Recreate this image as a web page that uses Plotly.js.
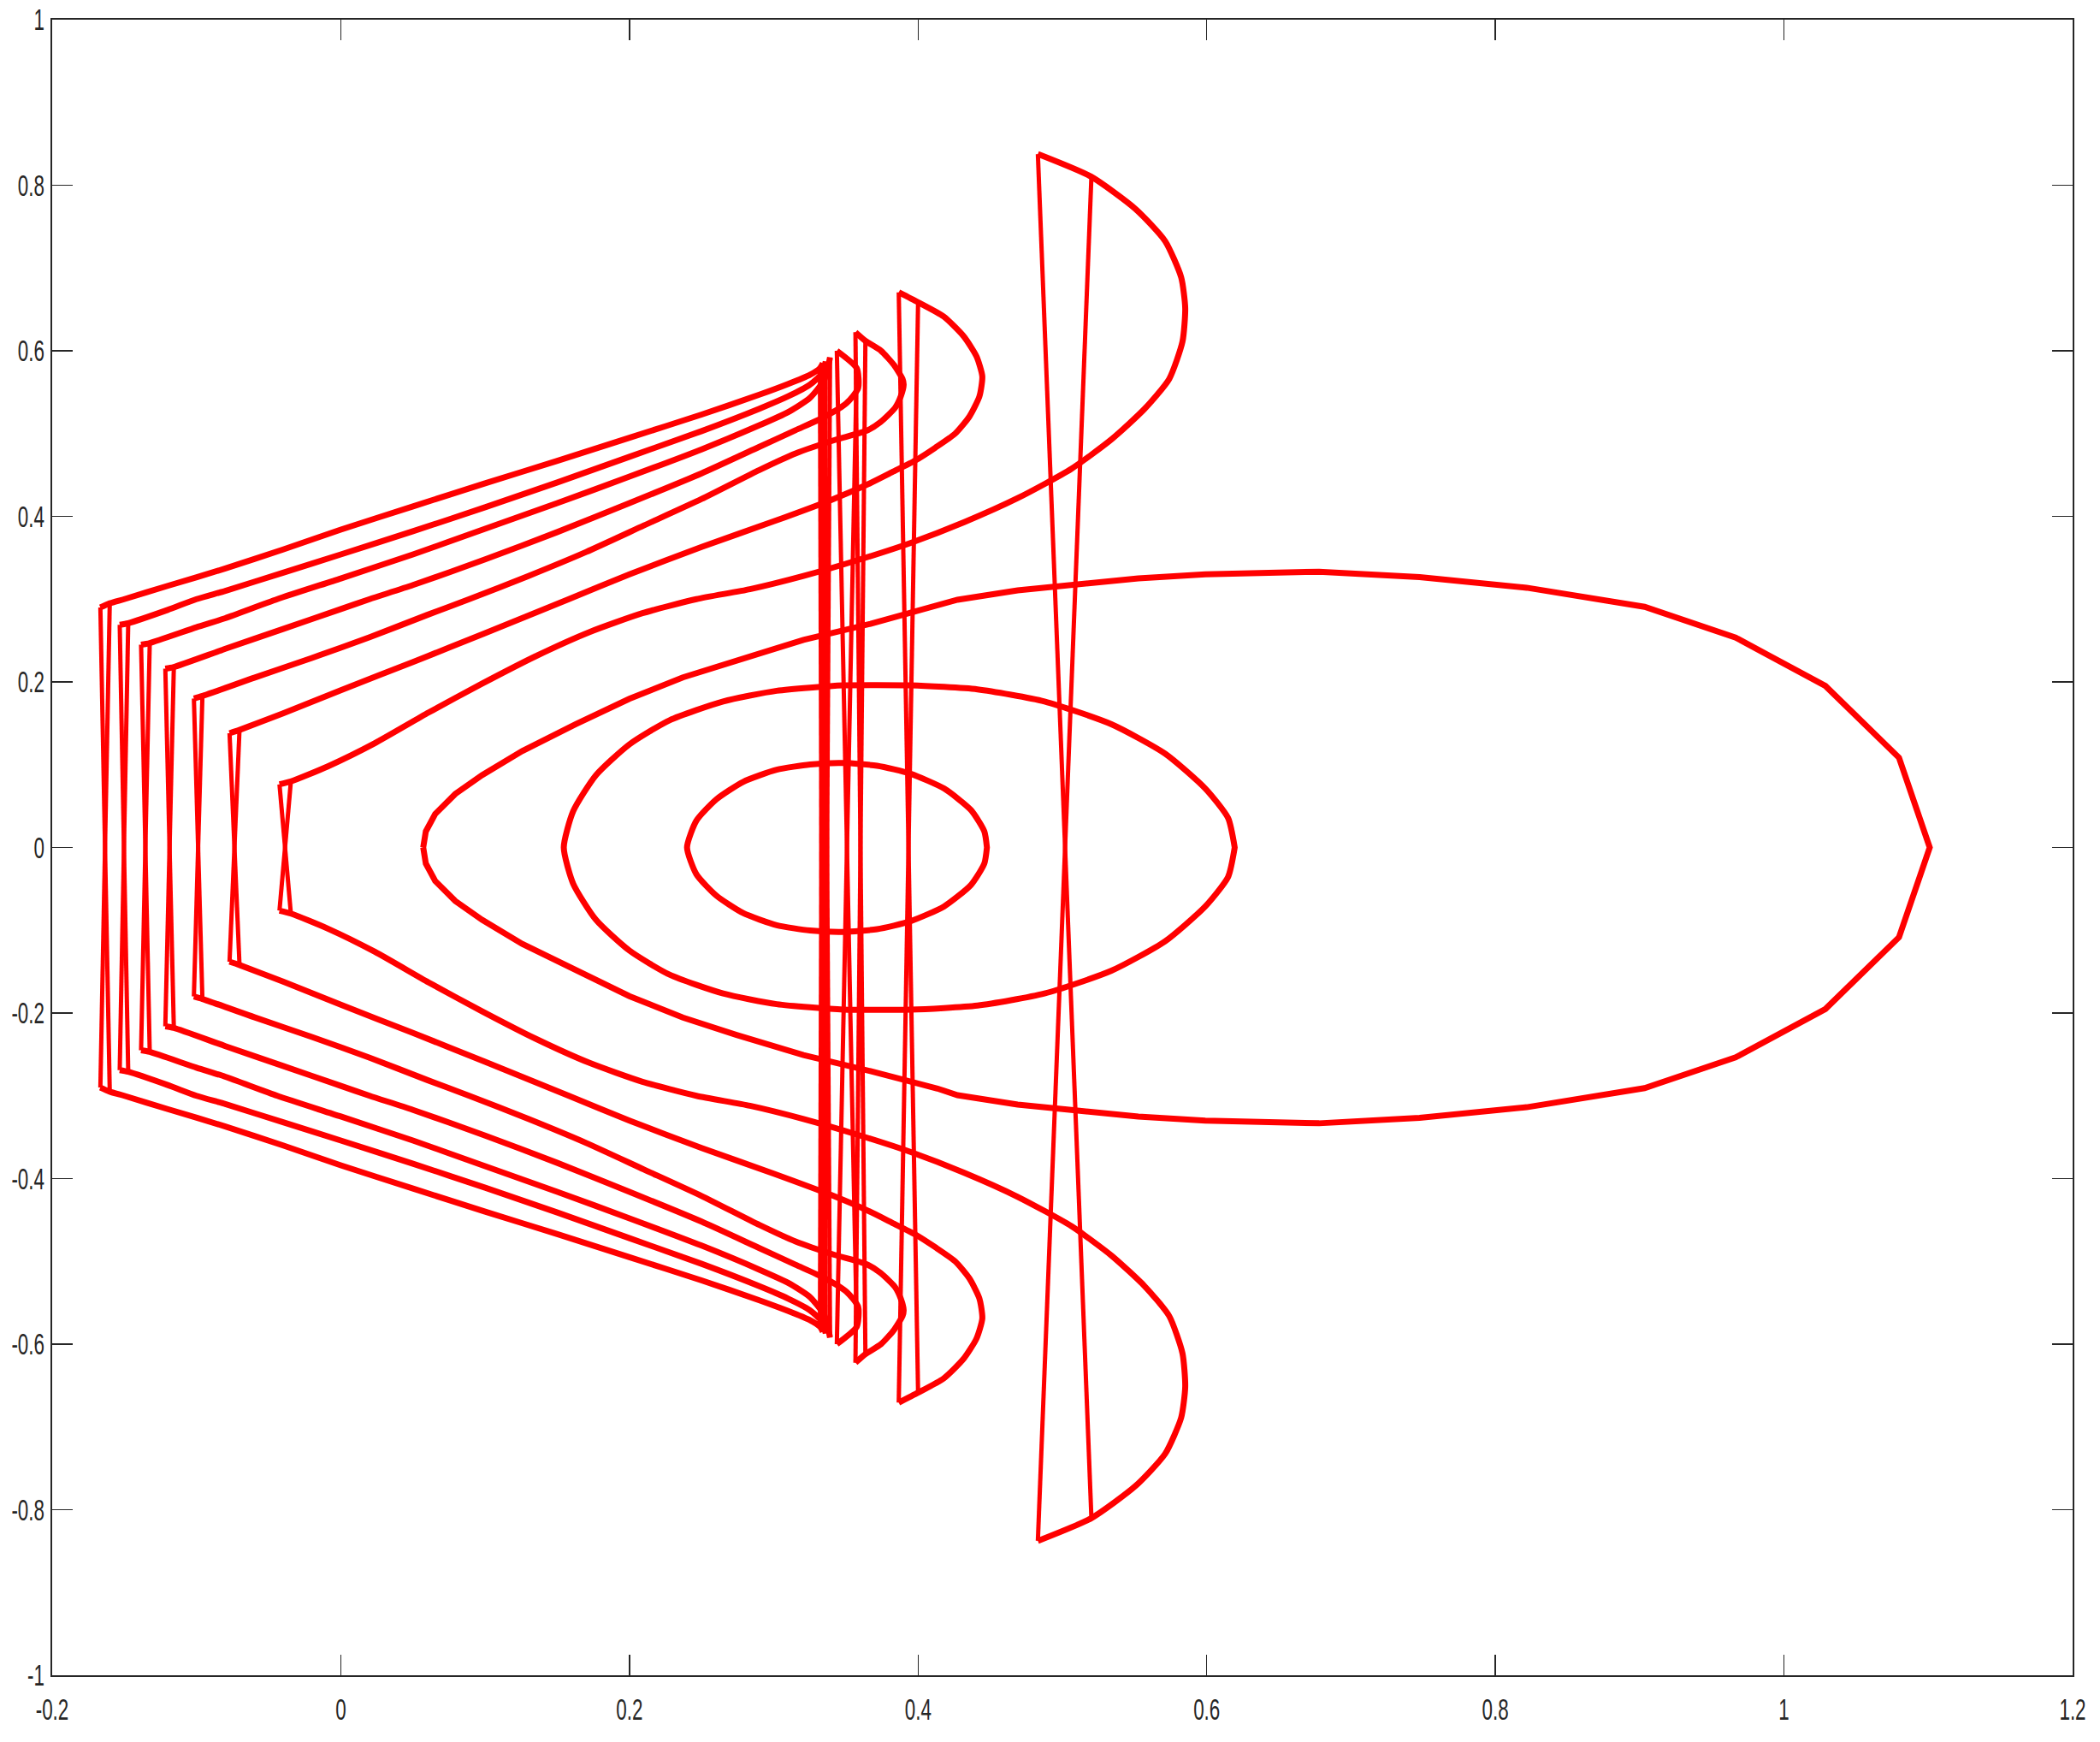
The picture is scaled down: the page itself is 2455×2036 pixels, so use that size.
<!DOCTYPE html>
<html><head><meta charset="utf-8">
<script src="https://cdn.plot.ly/plotly-3.0.1.min.js"></script>
<style>html,body{margin:0;padding:0;background:#fff;} #chart{width:2455px;height:2036px;}</style>
</head><body><div id="chart"></div>
<script>
// ---- tick definitions ----
const xTickVals = [-0.2, 0, 0.2, 0.4, 0.6, 0.8, 1, 1.2];
const xTickText = ['-0.2', '0', '0.2', '0.4', '0.6', '0.8', '1', '1.2'];
const yTickVals = [-1, -0.8, -0.6, -0.4, -0.2, 0, 0.2, 0.4, 0.6, 0.8, 1];
const yTickText = ['-1', '-0.8', '-0.6', '-0.4', '-0.2', '0', '0.2', '0.4', '0.6', '0.8', '1'];

// ---- open "fan" curves: x, upper branch y, lower branch y (left end -> right end) ----
const fan1X = [-0.1666,-0.1601,-0.150,-0.120,-0.080,-0.040,0.000,0.050,0.100,0.150,0.200,0.250,0.290,0.310,0.325,0.332,0.334];
const fan1Top = [0.290,0.295,0.300,0.316,0.337,0.360,0.384,0.412,0.440,0.467,0.495,0.523,0.547,0.560,0.571,0.579,0.585];
const fan1Bot = [-0.290,-0.295,-0.300,-0.316,-0.337,-0.360,-0.384,-0.412,-0.440,-0.467,-0.495,-0.523,-0.547,-0.560,-0.571,-0.579,-0.585];

const fan2X = [-0.1532,-0.1473,-0.120,-0.100,-0.080,-0.040,0.000,0.050,0.100,0.150,0.200,0.250,0.290,0.310,0.325,0.333,0.336];
const fan2Top = [0.269,0.271,0.287,0.300,0.310,0.332,0.354,0.382,0.411,0.441,0.472,0.503,0.530,0.545,0.559,0.572,0.587];
const fan2Bot = [-0.269,-0.271,-0.287,-0.300,-0.310,-0.332,-0.354,-0.382,-0.411,-0.441,-0.472,-0.503,-0.530,-0.545,-0.559,-0.572,-0.587];

const fan3X = [-0.1384,-0.1324,-0.100,-0.080,-0.044,0.000,0.050,0.100,0.150,0.200,0.250,0.290,0.310,0.325,0.335,0.339];
const fan3Top = [0.245,0.247,0.266,0.277,0.300,0.325,0.354,0.385,0.416,0.448,0.481,0.510,0.526,0.543,0.565,0.592];
const fan3Bot = [-0.245,-0.247,-0.266,-0.277,-0.300,-0.325,-0.354,-0.385,-0.416,-0.448,-0.481,-0.510,-0.526,-0.543,-0.565,-0.592];

const fan4X = [-0.1216,-0.1157,-0.080,-0.040,0.000,0.020,0.050,0.100,0.150,0.200,0.250,0.290,0.315,0.335,0.3506,0.3585,0.3575,0.3437];
const fan4Top = [0.216,0.218,0.240,0.264,0.288,0.300,0.317,0.348,0.381,0.416,0.452,0.484,0.504,0.520,0.537,0.555,0.579,0.600];
const fan4Bot = [-0.216,-0.218,-0.240,-0.264,-0.288,-0.300,-0.317,-0.348,-0.381,-0.416,-0.452,-0.484,-0.504,-0.520,-0.537,-0.555,-0.579,-0.600];

const fan5X = [-0.1018,-0.0959,-0.060,-0.020,0.020,0.060,0.089,0.130,0.170,0.210,0.250,0.290,0.3151,0.3418,0.3645,0.374,0.384,0.388,0.390,0.3892,0.3832,0.3743,0.3635,0.3566];
const fan5Top = [0.180,0.183,0.205,0.229,0.254,0.281,0.300,0.328,0.357,0.389,0.421,0.456,0.476,0.492,0.5036,0.514,0.531,0.545,0.559,0.566,0.583,0.600,0.612,0.6224];
const fan5Bot = [-0.180,-0.183,-0.205,-0.229,-0.254,-0.281,-0.300,-0.328,-0.357,-0.389,-0.421,-0.456,-0.476,-0.492,-0.5036,-0.514,-0.531,-0.545,-0.559,-0.566,-0.583,-0.600,-0.612,-0.6224];

const fan6X = [-0.0771,-0.0702,-0.040,0.000,0.050,0.100,0.158,0.200,0.250,0.300,0.340,0.3665,0.3822,0.398,0.4119,0.4257,0.4356,0.4425,0.4445,0.4405,0.4317,0.4178,0.400,0.3866];
const fan6Top = [0.138,0.142,0.162,0.190,0.224,0.259,0.300,0.330,0.363,0.394,0.420,0.4398,0.4535,0.4674,0.4829,0.500,0.5207,0.5449,0.569,0.5931,0.6173,0.6413,0.6586,0.6706];
const fan6Bot = [-0.138,-0.142,-0.162,-0.190,-0.224,-0.259,-0.300,-0.330,-0.363,-0.394,-0.420,-0.4398,-0.4535,-0.4674,-0.4829,-0.500,-0.5207,-0.5449,-0.569,-0.5931,-0.6173,-0.6413,-0.6586,-0.6706];

const fan7X = [-0.0425,-0.0346,-0.009,0.0236,0.0608,0.098,0.135,0.172,0.209,0.2464,0.2835,0.3206,0.358,0.395,0.432,0.469,0.5062,0.534,0.557,0.574,0.5832,0.5851,0.5823,0.5712,0.5507,0.5201,0.4830];
const fan7Top = [0.0763,0.0798,0.098,0.126,0.163,0.198,0.231,0.260,0.283,0.300,0.312,0.328,0.347,0.368,0.393,0.422,0.4574,0.493,0.530,0.566,0.611,0.6516,0.6888,0.7325,0.7713,0.8102,0.8377];
const fan7Bot = [-0.0763,-0.0798,-0.098,-0.126,-0.163,-0.198,-0.231,-0.260,-0.283,-0.300,-0.312,-0.328,-0.347,-0.368,-0.393,-0.422,-0.4574,-0.493,-0.530,-0.566,-0.611,-0.6516,-0.6888,-0.7325,-0.7713,-0.8102,-0.8377];

// ---- closed orbits: x, upper y, lower y (left tip -> right tip) ----
const loopX = [0.0571,0.0589,0.0654,0.0793,0.0979,0.1257,0.1628,0.1999,0.237,0.2742,0.3206,0.367,0.4134,0.4273,0.469,0.5062,0.5526,0.599,0.6779,0.7475,0.8217,0.9034,0.9665,1.0287,1.0797,1.101];
const loopTop = [0,0.0194,0.0405,0.0647,0.0874,0.1165,0.1489,0.1796,0.2055,0.2265,0.2508,0.2702,0.2912,0.2993,0.3105,0.317,0.3251,0.33,0.3332,0.3267,0.3138,0.2907,0.2535,0.1952,0.1084,0];
const loopBot = [0,-0.0194,-0.0405,-0.0647,-0.0874,-0.1165,-0.1489,-0.1796,-0.2055,-0.2265,-0.2508,-0.2702,-0.2912,-0.2993,-0.3105,-0.317,-0.3251,-0.33,-0.3332,-0.3267,-0.3138,-0.2907,-0.2535,-0.1952,-0.1084,0];

const midX = [0.1545,0.1610,0.1768,0.2000,0.2278,0.2649,0.3020,0.3484,0.3948,0.4412,0.4876,0.5340,0.5712,0.5990,0.6148,0.6194];
const midTop = [0,0.0437,0.0874,0.1246,0.1537,0.1764,0.1893,0.1958,0.1958,0.1910,0.1764,0.1489,0.1133,0.0712,0.0356,0];
const midBot = [0,-0.0437,-0.0874,-0.1246,-0.1537,-0.1764,-0.1893,-0.1958,-0.1958,-0.1910,-0.1764,-0.1489,-0.1133,-0.0712,-0.0356,0];

const smallX = [0.2399,0.2464,0.2603,0.2788,0.3020,0.3252,0.3484,0.3716,0.3948,0.4180,0.4366,0.4459,0.4477];
const smallTop = [0,0.0324,0.0583,0.0793,0.0939,0.1003,0.1020,0.0987,0.0890,0.0712,0.0453,0.0194,0];
const smallBot = [0,-0.0324,-0.0583,-0.0793,-0.0939,-0.1003,-0.1020,-0.0987,-0.0890,-0.0712,-0.0453,-0.0194,0];

// ---- build traces ----
const RED = '#ff0000';
const LW = 7;
function seg(xs, ys, shape) {
  return {x: xs, y: ys, type: 'scatter', mode: 'lines',
          line: {color: RED, width: LW, shape: shape || 'linear', smoothing: 0.6},
          hoverinfo: 'skip'};
}
function fanTraces(xs, top, bot) {
  const n = xs.length;
  const crossX = [xs[0], xs[1], null, xs[1], xs[0], null, xs[n-1], xs[n-2], null, xs[n-2], xs[n-1]];
  const crossY = [top[0], bot[1], null, top[1], bot[0], null, top[n-1], bot[n-2], null, top[n-2], bot[n-1]];
  const c = seg(crossX, crossY, 'linear');
  c.connectgaps = false;
  c.line.width = 5;
  return [seg(xs, top, 'spline'), seg(xs, bot, 'spline'), c];
}
function loopTrace(xs, top, bot, shape) {
  const X = xs.concat(xs.slice().reverse());
  const Y = top.concat(bot.slice().reverse());
  return seg(X, Y, shape);
}

const traces = [].concat(
  fanTraces(fan1X, fan1Top, fan1Bot),
  fanTraces(fan2X, fan2Top, fan2Bot),
  fanTraces(fan3X, fan3Top, fan3Bot),
  fanTraces(fan4X, fan4Top, fan4Bot),
  fanTraces(fan5X, fan5Top, fan5Bot),
  fanTraces(fan6X, fan6Top, fan6Bot),
  fanTraces(fan7X, fan7Top, fan7Bot),
  [loopTrace(loopX, loopTop, loopBot, 'linear'),
   loopTrace(midX, midTop, midBot, 'spline'),
   loopTrace(smallX, smallTop, smallBot, 'spline')]
);

const axisCommon = {
  ticks: 'inside', ticklen: 24, tickwidth: 1.5, tickcolor: '#262626',
  showline: true, linecolor: '#262626', linewidth: 2, mirror: 'ticks',
  showgrid: false, zeroline: false,
  tickfont: {family: '"Liberation Sans", Arial, sans-serif', size: 35, color: '#262626'}
};

const layout = {
  width: 2455, height: 2036,
  margin: {l: 61, r: 32, t: 23, b: 78, pad: 0},
  paper_bgcolor: '#ffffff', plot_bgcolor: '#ffffff',
  showlegend: false,
  xaxis: Object.assign({}, axisCommon, {range: [-0.2, 1.2], tickmode: 'array', tickvals: xTickVals, ticktext: xTickText, ticklabelstandoff: 8}),
  yaxis: Object.assign({}, axisCommon, {range: [-1, 1], tickmode: 'array', tickvals: yTickVals, ticktext: yTickText})
};

Plotly.newPlot('chart', traces, layout, {staticPlot: true, displayModeBar: false}).then(function (gd) {
  // condense tick labels horizontally around their anchor (reference uses a narrow face)
  const s = 0.64;
  gd.querySelectorAll('.xtick text, .ytick text').forEach(function (t) {
    const x = parseFloat(t.getAttribute('x')) || 0;
    const tr = t.getAttribute('transform') || '';
    t.setAttribute('transform', tr + ' translate(' + (x * (1 - s)) + ',0) scale(' + s + ',1)');
  });
});
</script>
</body></html>
